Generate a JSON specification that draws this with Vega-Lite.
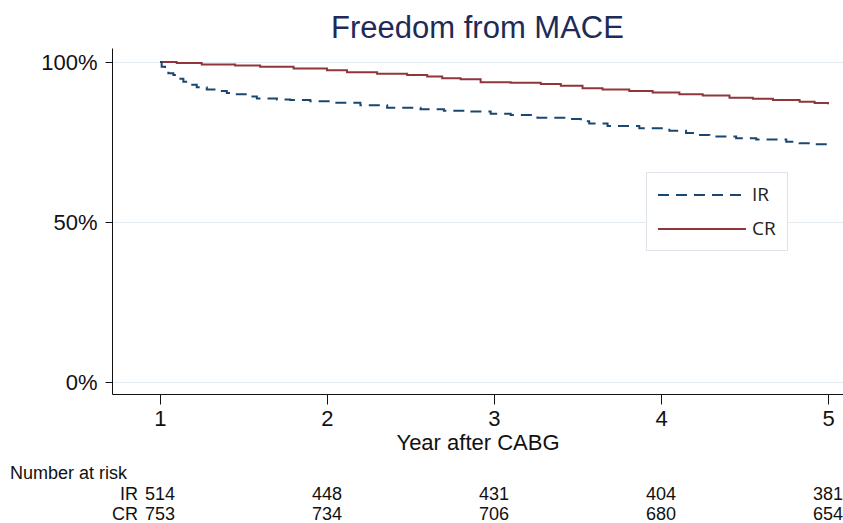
{
  "$schema": "https://vega.github.io/schema/vega-lite/v6.json",
  "width": 731,
  "height": 346,
  "autosize": {"type": "none"},
  "padding": {"left": 112, "top": 48, "right": 0, "bottom": 129},
  "background": "white",
  "title": {
    "text": "Freedom from MACE",
    "font": "Liberation Sans",
    "fontSize": 31,
    "fontWeight": "normal",
    "color": "#1e2b57",
    "anchor": "middle",
    "baseline": "alphabetic",
    "offset": -21
  },
  "config": {
    "view": {"stroke": null},
    "font": "Liberation Sans"
  },
  "datasets": {
    "km": [
      {"group": "CR", "year": 1.00, "surv": 1.000},
      {"group": "CR", "year": 1.10, "surv": 0.997},
      {"group": "CR", "year": 1.25, "surv": 0.992},
      {"group": "CR", "year": 1.45, "surv": 0.989},
      {"group": "CR", "year": 1.60, "surv": 0.985},
      {"group": "CR", "year": 1.80, "surv": 0.980},
      {"group": "CR", "year": 2.00, "surv": 0.974},
      {"group": "CR", "year": 2.12, "surv": 0.968},
      {"group": "CR", "year": 2.30, "surv": 0.963},
      {"group": "CR", "year": 2.48, "surv": 0.959},
      {"group": "CR", "year": 2.60, "surv": 0.955},
      {"group": "CR", "year": 2.69, "surv": 0.949},
      {"group": "CR", "year": 2.80, "surv": 0.946},
      {"group": "CR", "year": 2.92, "surv": 0.937},
      {"group": "CR", "year": 3.10, "surv": 0.935},
      {"group": "CR", "year": 3.28, "surv": 0.931},
      {"group": "CR", "year": 3.40, "surv": 0.926},
      {"group": "CR", "year": 3.53, "surv": 0.918},
      {"group": "CR", "year": 3.65, "surv": 0.914},
      {"group": "CR", "year": 3.81, "surv": 0.909},
      {"group": "CR", "year": 3.95, "surv": 0.905},
      {"group": "CR", "year": 4.11, "surv": 0.899},
      {"group": "CR", "year": 4.25, "surv": 0.895},
      {"group": "CR", "year": 4.41, "surv": 0.888},
      {"group": "CR", "year": 4.55, "surv": 0.885},
      {"group": "CR", "year": 4.67, "surv": 0.881},
      {"group": "CR", "year": 4.83, "surv": 0.876},
      {"group": "CR", "year": 4.92, "surv": 0.872},
      {"group": "CR", "year": 5.00, "surv": 0.868},
      {"group": "IR", "year": 1.00, "surv": 1.000},
      {"group": "IR", "year": 1.01, "surv": 0.985},
      {"group": "IR", "year": 1.03, "surv": 0.973},
      {"group": "IR", "year": 1.05, "surv": 0.965},
      {"group": "IR", "year": 1.08, "surv": 0.959},
      {"group": "IR", "year": 1.11, "surv": 0.948},
      {"group": "IR", "year": 1.14, "surv": 0.938},
      {"group": "IR", "year": 1.18, "surv": 0.929},
      {"group": "IR", "year": 1.22, "surv": 0.921},
      {"group": "IR", "year": 1.28, "surv": 0.914},
      {"group": "IR", "year": 1.34, "surv": 0.909},
      {"group": "IR", "year": 1.40, "surv": 0.903},
      {"group": "IR", "year": 1.46, "surv": 0.899},
      {"group": "IR", "year": 1.52, "surv": 0.892},
      {"group": "IR", "year": 1.58, "surv": 0.886},
      {"group": "IR", "year": 1.70, "surv": 0.883},
      {"group": "IR", "year": 1.78, "surv": 0.881},
      {"group": "IR", "year": 1.90, "surv": 0.877},
      {"group": "IR", "year": 2.02, "surv": 0.873},
      {"group": "IR", "year": 2.20, "surv": 0.865},
      {"group": "IR", "year": 2.36, "surv": 0.857},
      {"group": "IR", "year": 2.56, "surv": 0.852},
      {"group": "IR", "year": 2.70, "surv": 0.848},
      {"group": "IR", "year": 2.84, "surv": 0.845},
      {"group": "IR", "year": 2.98, "surv": 0.838},
      {"group": "IR", "year": 3.10, "surv": 0.834},
      {"group": "IR", "year": 3.26, "surv": 0.826},
      {"group": "IR", "year": 3.44, "surv": 0.822},
      {"group": "IR", "year": 3.52, "surv": 0.815},
      {"group": "IR", "year": 3.57, "surv": 0.808},
      {"group": "IR", "year": 3.68, "surv": 0.800},
      {"group": "IR", "year": 3.87, "surv": 0.793},
      {"group": "IR", "year": 4.05, "surv": 0.785},
      {"group": "IR", "year": 4.15, "surv": 0.778},
      {"group": "IR", "year": 4.22, "surv": 0.772},
      {"group": "IR", "year": 4.29, "surv": 0.767},
      {"group": "IR", "year": 4.45, "surv": 0.762},
      {"group": "IR", "year": 4.57, "surv": 0.758},
      {"group": "IR", "year": 4.75, "surv": 0.751},
      {"group": "IR", "year": 4.83, "surv": 0.746},
      {"group": "IR", "year": 4.92, "surv": 0.743},
      {"group": "IR", "year": 5.00, "surv": 0.743}
    ],
    "risk": [
      {"group": "IR", "year": 1, "n": 514},
      {"group": "IR", "year": 2, "n": 448},
      {"group": "IR", "year": 3, "n": 431},
      {"group": "IR", "year": 4, "n": 404},
      {"group": "IR", "year": 5, "n": 381},
      {"group": "CR", "year": 1, "n": 753},
      {"group": "CR", "year": 2, "n": 734},
      {"group": "CR", "year": 3, "n": 706},
      {"group": "CR", "year": 4, "n": 680},
      {"group": "CR", "year": 5, "n": 654}
    ]
  },
  "layer": [
    {
      "layer": [
        {
          "data": {"name": "km"},
          "mark": {"type": "line", "interpolate": "step-after", "strokeWidth": 2},
          "encoding": {
            "x": {
              "field": "year", "type": "quantitative",
              "scale": {"domain": [0.7126, 5.0898], "nice": false, "zero": false},
              "title": "Year after CABG",
              "axis": {
                "values": [1, 2, 3, 4, 5], "format": "d",
                "grid": false,
                "domainColor": "#111", "tickColor": "#111", "domainWidth": 1, "tickWidth": 1,
                "tickSize": 10,
                "labelFont": "Liberation Sans", "labelFontSize": 22, "labelColor": "#111", "labelPadding": 4,
                "titleFont": "Liberation Sans", "titleFontSize": 22, "titleFontWeight": "normal", "titleColor": "#111", "titlePadding": 3
              }
            },
            "y": {
              "field": "surv", "type": "quantitative",
              "scale": {"domain": [-0.0375, 1.04375], "nice": false, "zero": false},
              "title": null,
              "axis": {
                "values": [0, 0.5, 1], "format": ".0%",
                "grid": true, "gridColor": "#e4ebf0", "gridWidth": 1,
                "domainColor": "#111", "tickColor": "#111", "domainWidth": 1, "tickWidth": 1,
                "tickSize": 7,
                "labelFont": "Liberation Sans", "labelFontSize": 22, "labelColor": "#111", "labelPadding": 8
              }
            },
            "color": {
              "field": "group", "type": "nominal",
              "scale": {"domain": ["IR", "CR"], "range": ["#1a476f", "#90353b"]},
              "legend": {
                "title": null, "orient": "none", "legendX": 534, "legendY": 124,
                "symbolType": "M-1,0H7", "symbolSize": 484, "symbolStrokeWidth": 2,
                "labelFont": "Open Sans", "labelFontSize": 19, "labelColor": "#222", "labelOffset": 71,
                "rowPadding": 12, "padding": 11,
                "fillColor": "white", "strokeColor": "#dde3e8"
              }
            },
            "strokeDash": {
              "field": "group", "type": "nominal",
              "scale": {"domain": ["IR", "CR"], "range": [[11, 7], [1, 0]]},
              "legend": {
                "title": null, "orient": "none", "legendX": 534, "legendY": 124,
                "symbolType": "M-1,0H7", "symbolSize": 484, "symbolStrokeWidth": 2,
                "labelFont": "Open Sans", "labelFontSize": 19, "labelColor": "#222", "labelOffset": 71,
                "rowPadding": 12, "padding": 11,
                "fillColor": "white", "strokeColor": "#dde3e8"
              }
            }
          }
        },
        {
          "mark": {"type": "text", "font": "Open Sans", "fontSize": 13, "color": "#222", "align": "center", "baseline": "alphabetic"},
          "encoding": {
            "x": {"datum": 3.5, "type": "quantitative", "scale": {"domain": [0.7126, 5.0898], "nice": false, "zero": false}, "title": "Year after CABG"},
            "y": {"datum": 0.74, "type": "quantitative", "scale": {"domain": [-0.0375, 1.04375], "nice": false, "zero": false}, "title": null},
            "text": {"value": "p<0.001"}
          }
        }
      ]
    },
    {
      "data": {"name": "risk"},
      "layer": [
        {
          "mark": {"type": "text", "font": "Liberation Sans", "fontSize": 18, "color": "#111", "align": "center", "baseline": "alphabetic"},
          "encoding": {
            "x": {"field": "year", "type": "quantitative", "scale": {"domain": [0.7126, 5.0898], "nice": false, "zero": false}, "title": "Year after CABG"},
            "y": {"field": "group", "type": "nominal", "scale": {"type": "point", "domain": ["Number at risk", "IR", "CR"], "range": [431, 472], "padding": 0}, "axis": null},
            "text": {"field": "n", "type": "quantitative"}
          }
        },
        {
          "transform": [{"filter": "datum.year == 1"}],
          "mark": {"type": "text", "font": "Liberation Sans", "fontSize": 18, "color": "#111", "align": "right", "baseline": "alphabetic", "dx": -22},
          "encoding": {
            "x": {"field": "year", "type": "quantitative", "scale": {"domain": [0.7126, 5.0898], "nice": false, "zero": false}, "title": "Year after CABG"},
            "y": {"field": "group", "type": "nominal", "scale": {"type": "point", "domain": ["Number at risk", "IR", "CR"], "range": [431, 472], "padding": 0}, "axis": null},
            "text": {"field": "group", "type": "nominal"}
          }
        },
        {
          "transform": [{"filter": "datum.year == 1 && datum.group == 'IR'"}],
          "mark": {"type": "text", "font": "Liberation Sans", "fontSize": 18, "color": "#111", "align": "left", "baseline": "alphabetic", "dx": -150},
          "encoding": {
            "x": {"field": "year", "type": "quantitative", "scale": {"domain": [0.7126, 5.0898], "nice": false, "zero": false}, "title": "Year after CABG"},
            "y": {"datum": "Number at risk", "type": "nominal", "scale": {"type": "point", "domain": ["Number at risk", "IR", "CR"], "range": [431, 472], "padding": 0}, "axis": null},
            "text": {"value": "Number at risk"}
          }
        }
      ]
    }
  ],
  "resolve": {"scale": {"y": "independent"}}
}
